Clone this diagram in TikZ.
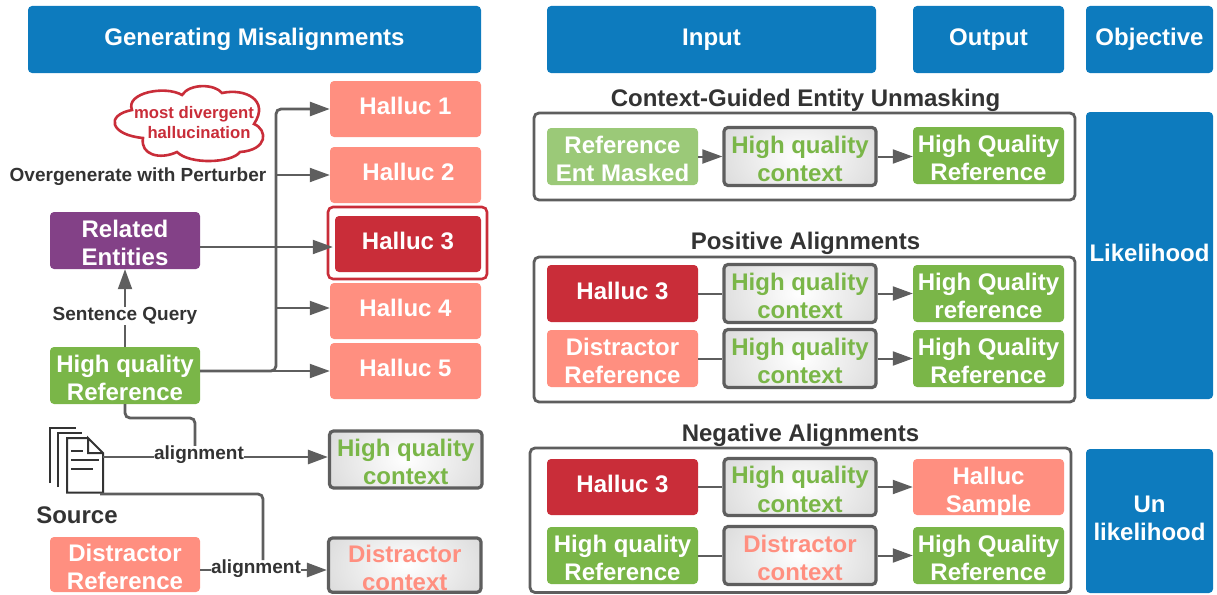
\documentclass[tikz,border=0pt]{standalone}
\usepackage{fontspec}
\setmainfont{Liberation Sans}
\usetikzlibrary{arrows.meta}
\definecolor{cblue}{HTML}{0D7BBE}
\definecolor{csalmon}{HTML}{FF8F80}
\definecolor{cred}{HTML}{C92D39}
\definecolor{cpurple}{HTML}{834187}
\definecolor{cgreen}{HTML}{7AB648}
\definecolor{clight}{HTML}{9BC978}
\definecolor{cline}{HTML}{5E5E5E}
\definecolor{ctext}{HTML}{333333}
\pgfdeclarefunctionalshading{ctxshade}{\pgfpointorigin}{\pgfpoint{100bp}{100bp}}{}{
  50 sub 0.55 mul dup mul exch 50 sub dup mul add sqrt 53 div 0.26 mul 1 exch sub dup dup }
\newcommand{\fs}[2]{\fontsize{#1pt}{#2pt}\selectfont\bfseries}
% vertical text nudges inside a centred node
\newcommand{\sgl}{\rule[-6pt]{0pt}{6pt}}
\newcommand{\hdr}{\rule[-2pt]{0pt}{2pt}}
\newcommand{\dbl}{\rule{0pt}{22.5pt}}
% \bx[style]{name}{x1}{y1}{x2}{y2}{text}
\newcommand{\bx}[7][]{%
  \pgfmathsetmacro{\cxx}{(#3+#5)/2}\pgfmathsetmacro{\cyy}{(#4+#6)/2}%
  \pgfmathsetmacro{\www}{#5-#3}\pgfmathsetmacro{\hhh}{#6-#4}%
  \node[#1,minimum width=\www pt,minimum height=\hhh pt] (#2) at (\cxx,\cyy) {#7};}
\tikzset{
  base/.style={rectangle,rounded corners=4pt,inner sep=0pt,align=center,text=white,font=\fs{24}{28.5}},
  header/.style={base,fill=cblue},
  salmon/.style={base,fill=csalmon},
  redbox/.style={base,fill=cred},
  purple/.style={base,fill=cpurple},
  greenbox/.style={base,fill=cgreen},
  lightbox/.style={base,fill=clight},
  ctxbox/.style={base,draw=cline,line width=3.2pt,shading=ctxshade,text=cgreen},
  disbox/.style={ctxbox,text=csalmon},
  panel/.style={rectangle,rounded corners=5pt,draw=cline,line width=2.8pt,fill=white,inner sep=0pt},
  ring/.style={rectangle,rounded corners=5pt,draw=cred,line width=2.6pt,inner sep=0pt},
  heading/.style={inner sep=0pt,text=ctext,font=\fs{24}{28}},
  small/.style={inner sep=0pt,text=ctext,font=\fs{19}{22}},
  thick line/.style={draw=cline,line width=2.8pt,rounded corners=5pt},
  thin line/.style={draw=cline,line width=2pt,rounded corners=5pt},
  tip/.style={-{Triangle[length=20pt,width=14pt]}},
  doc/.style={draw=ctext,line width=2pt},
}
\begin{document}
\begin{tikzpicture}[x=1pt,y=-1pt]
\useasboundingbox (0,0) rectangle (1217,594);
% headers
\bx[header]{hgen}{28}{6}{481}{73}{\hdr Generating Misalignments}
\bx[header]{hinp}{547}{6}{876}{73}{\hdr Input}
\bx[header]{hout}{913}{6}{1064}{73}{\hdr Output}
\bx[header]{hobj}{1086}{6}{1213}{73}{\hdr Objective}
\bx[header]{hlik}{1086}{112}{1213}{399}{\sgl Likelihood}
\bx[header]{hunl}{1086}{449}{1213}{593}{Un\\likelihood\sgl}
% left: hallucinations
\bx[salmon]{ha}{330}{81}{481}{137}{\sgl Halluc 1}
\bx[salmon]{hb}{330}{147}{481}{203}{\sgl\hspace*{6pt}Halluc 2}
\bx[ring]{hring}{328}{207}{487}{279}{}
\bx[redbox]{hc}{335}{216}{481}{272}{\sgl Halluc 3}
\bx[salmon]{hd}{330}{283}{481}{339}{\sgl Halluc 4}
\bx[salmon]{he}{330}{343}{481}{399}{\sgl Halluc 5}
\bx[purple]{rel}{50}{212}{200}{269}{\dbl Related\\Entities}
\bx[greenbox]{hqr}{50}{347}{200}{404}{\dbl High quality\\Reference}
\bx[salmon]{dref}{50}{537}{200}{592}{\dbl Distractor\\Reference}
\bx[ctxbox]{lctx}{329.5}{431}{482}{488}{\dbl High quality\\context}
\bx[disbox]{ldis}{328.5}{538}{481}{592.3}{\dbl Distractor\\context}
% cloud
\draw[draw=cred,line width=2.6pt,fill=white] (132,110)
  .. controls (125,93) and (165,85) .. (182,95)
  .. controls (190,83) and (215,84) .. (222,93)
  .. controls (245,88) and (270,100) .. (254,124)
  .. controls (268,130) and (268,150) .. (240,152)
  .. controls (232,163) and (190,165) .. (177,152)
  .. controls (160,160) and (140,155) .. (143,138)
  .. controls (110,135) and (105,115) .. (132,110) -- cycle;
\node[inner sep=0pt,align=center,text=cred,font=\fs{16.7}{20}] (cloudtext) at (194,123) {most divergent\\\hspace{10pt}hallucination};
% labels
\node[small] (over) at (138,177) {Overgenerate with Perturber};
\node[small] (sq) at (125,316) {Sentence Query};
\node[small] (al1) at (199,455) {alignment};
\node[small] (al2) at (256,569) {alignment};
\node[heading] (src) at (77,515) {Source};
% source icon
\coordinate (srcr) at (103,457);
\coordinate (srcb) at (100,494);
\coordinate (trunk) at (276,371);
\coordinate (hqrout) at (200,371);
\coordinate (drop) at (195,418);
\coordinate (dy) at (200,570);
\draw[doc] (50,483) -- (50,428) -- (76,428);
\draw[doc] (58,487) -- (58,433) -- (82,433);
\draw[doc] (88,438) -- (67,438) -- (67,492.5) -- (103,492.5) -- (103,453) -- (88,438) -- (88,453) -- (103,453);
\draw[doc] (71,451) -- (83,451) (71,460) -- (99,460) (71,469) -- (93,469);
% left connectors
\draw[thin line,tip] (hqrout) -- (hqrout -| he.west);
\draw[thick line,tip] (hqrout) -- (trunk) |- (ha.west);
\draw[thin line,tip] (trunk |- hb.west) -- (hb.west);
\draw[thin line,tip] (276,308) -- (hd.west |- 276,308);
\draw[thin line,tip] ([yshift=-6.5pt]rel.east) -- ([xshift=-2pt,yshift=-3pt]hc.west);
\draw[thin line] (hqr.north) -- (sq.south);
\draw[thin line,tip] (sq.north) -- (rel.south);
\draw[thick line] (hqr.south) -- (125,418) -- (drop) -- (drop |- al1.north);
\draw[thick line] (srcr) -- (srcr -| al1.west);
\draw[thick line,tip] (srcr -| al1.east) -- (srcr -| lctx.west);
\draw[thick line] (srcb) -- (263,494) -- (263,560);
\draw[thick line] (dy) -- (dy -| al2.west);
\draw[thick line,tip] (dy -| al2.east) -- (dy -| ldis.west);
% titles
\node[heading] (t1) at (805.5,100) {Context-Guided Entity Unmasking};
\node[heading] (t2) at (805.5,243) {Positive Alignments};
\node[heading] (t3) at (800.5,435) {Negative Alignments};
% panels
\bx[panel]{p1}{534}{113}{1075}{200}{}
\bx[panel]{p2}{534}{257}{1075}{402}{}
\bx[panel]{p3}{530}{448}{1071}{592.5}{}
% row 1
\bx[lightbox]{a1}{547}{128}{698}{185}{\dbl Reference\\Ent Masked}
\bx[ctxbox]{a2}{724}{127.5}{876}{185.5}{\dbl High quality\\context}
\bx[greenbox]{a3}{913}{127}{1064}{184}{\dbl High Quality\\Reference}
% row 2
\bx[redbox]{b1}{547}{265}{698}{322}{\sgl Halluc 3}
\bx[ctxbox]{b2}{724}{264.5}{876}{322.5}{\dbl High quality\\context}
\bx[greenbox]{b3}{913}{265}{1064}{322}{\dbl High Quality\\reference}
% row 3
\bx[salmon]{c1}{547}{330}{698}{387}{\dbl Distractor\\Reference}
\bx[ctxbox]{c2}{724}{329.5}{876}{387.5}{\dbl High quality\\context}
\bx[greenbox]{c3}{913}{330}{1064}{387}{\dbl High Quality\\Reference}
% row 4
\bx[redbox]{d1}{547}{459}{698}{515}{\sgl Halluc 3}
\bx[ctxbox]{d2}{724}{458.5}{876}{515.5}{\dbl High quality\\context}
\bx[salmon]{d3}{913}{459}{1064}{515}{\dbl Halluc\\\smash{Sample}}
% row 5
\bx[greenbox]{e1}{547}{527}{698}{584}{\dbl High quality\\Reference}
\bx[disbox]{e2}{724}{526.5}{876}{584.5}{\dbl Distractor\\context}
\bx[greenbox]{e3}{913}{527}{1064}{584}{\dbl High Quality\\Reference}
% row connectors
\foreach \n in {a,b,c,d,e}{
  \draw[thin line,tip] (\n2.east) -- (\n2.east -| \n3.west);
}
\draw[thin line,tip] (a1.east) -- (a2.west);
\foreach \n in {b,c,d,e}{
  \draw[thin line] (\n1.east) -- (\n2.west);
}
\end{tikzpicture}
\end{document}
